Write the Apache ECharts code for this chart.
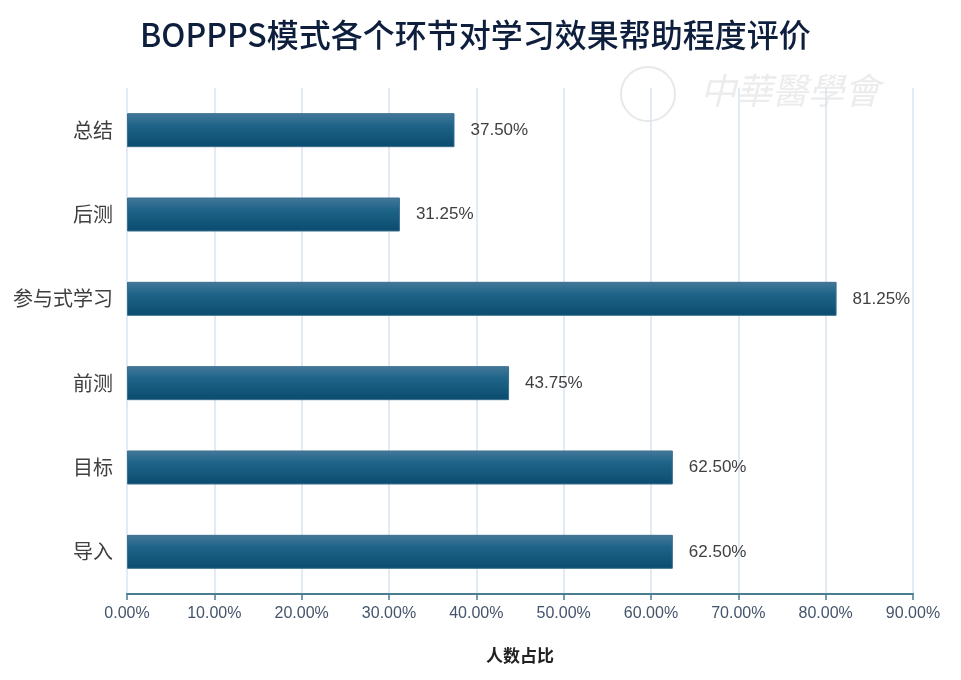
<!DOCTYPE html>
<html>
<head>
<meta charset="utf-8">
<title>BOPPPS模式各个环节对学习效果帮助程度评价</title>
<script src="https://cdn.jsdelivr.net/npm/echarts@6/dist/echarts.min.js"></script>
<style>
    html, body { margin: 0; padding: 0; background: #fff; }
    #chart { width: 961px; height: 680px; }
</style>
</head>
<body>
<div id="chart"></div>
<script>
// 数据（自下而上）
const categories = ['导入', '目标', '前测', '参与式学习', '后测', '总结'];
const ratioValues = [62.50, 62.50, 43.75, 81.25, 31.25, 37.50];
const xTicks = [0, 10, 20, 30, 40, 50, 60, 70, 80, 90];

let chartDom = document.getElementById('chart');
let chart = echarts.init(chartDom);

let option = {
    backgroundColor: '#ffffff',
    animation: false,
    title: {
        text: 'BOPPPS模式各个环节对学习效果帮助程度评价',
        left: 135,
        top: 14,
        textStyle: {
            fontFamily: '"Noto Sans CJK SC", "Noto Sans", sans-serif',
            fontSize: 32,
            fontWeight: 500,
            color: '#0e1f3e'
        }
    },
    // 右上角水印
    graphic: [
        {
            type: 'circle',
            shape: { cx: 648, cy: 94, r: 27 },
            style: { fill: 'none', stroke: '#e8e8e8', lineWidth: 2 }
        },
        {
            type: 'text',
            left: 700,
            top: 72,
            style: {
                text: '中華醫學會',
                font: 'italic 36px "Noto Sans CJK TC", serif',
                fill: '#ececec'
            }
        }
    ],
    grid: {
        left: 127,
        right: 48,
        top: 88,
        bottom: 86
    },
    xAxis: {
        type: 'value',
        min: xTicks[0],
        max: xTicks[xTicks.length - 1],
        interval: 10,
        name: '人数占比',
        nameLocation: 'middle',
        nameGap: 53,
        nameTextStyle: {
            fontFamily: '"Noto Sans CJK SC", sans-serif',
            fontSize: 17,
            fontWeight: 'bold',
            color: '#222'
        },
        axisLine: { show: true, lineStyle: { color: '#4a7d90', width: 2 } },
        axisTick: { show: true, length: 6, lineStyle: { color: '#4a7d90', width: 1.5 } },
        axisLabel: {
            margin: 12,
            fontFamily: '"Liberation Sans Narrow", "Liberation Sans", sans-serif',
            fontSize: 16,
            color: '#44546a',
            formatter: function (v) { return v.toFixed(2) + '%'; }
        },
        splitLine: { show: true, lineStyle: { color: '#d9e3f0', width: 1.5 } }
    },
    yAxis: {
        type: 'category',
        data: categories,
        axisLine: { show: false },
        axisTick: { show: false },
        axisLabel: {
            margin: 14,
            fontFamily: '"Noto Sans CJK SC", sans-serif',
            fontSize: 20,
            color: '#404040'
        }
    },
    series: [
        {
            name: '人数占比',
            type: 'bar',
            data: ratioValues,
            barWidth: 34,
            itemStyle: {
                color: new echarts.graphic.LinearGradient(0, 0, 0, 1, [
                    { offset: 0, color: '#45789a' },
                    { offset: 0.35, color: '#1f6589' },
                    { offset: 1, color: '#0a4b6e' }
                ]),
                borderColor: '#3a6f90',
                borderWidth: 1
            },
            label: {
                show: true,
                position: 'right',
                distance: 16,
                fontFamily: '"Liberation Sans Narrow", "Liberation Sans", sans-serif',
                fontSize: 17,
                color: '#404040',
                formatter: function (p) { return p.value.toFixed(2) + '%'; }
            }
        }
    ]
};
option && chart.setOption(option);
</script>
</body>
</html>
